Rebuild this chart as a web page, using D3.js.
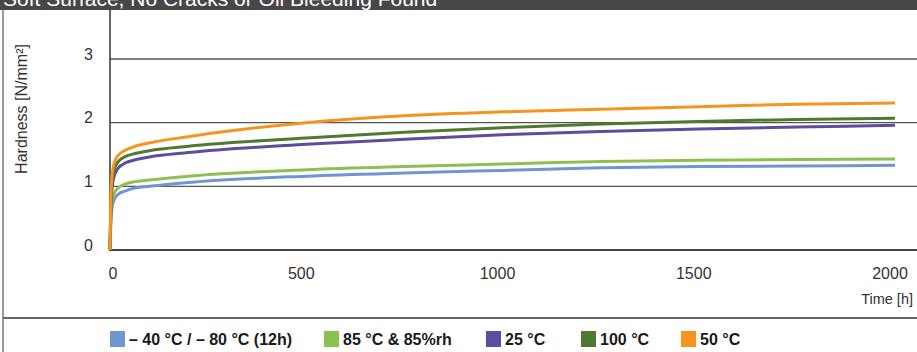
<!DOCTYPE html>
<html><head><meta charset="utf-8">
<script src="https://cdn.jsdelivr.net/npm/d3@7"></script>
<style>html,body{margin:0;padding:0;background:#fff;}svg{display:block;}</style>
</head><body>
<script>
const times = [0, 2, 5, 10, 20, 40, 60, 100, 200, 500, 750, 1000, 1250, 1500, 1750, 2000];
const seriesNames = ["– 40 °C / – 80 °C (12h)", "85 °C & 85%rh", "25 °C", "100 °C", "50 °C"];
const seriesColors = ["#6f96d0", "#8cc152", "#5e4c9f", "#4d7a2f", "#f7941d"];
const blue   = [0, 0.40, 0.65, 0.78, 0.87, 0.93, 0.97, 1.00, 1.06, 1.16, 1.21, 1.25, 1.29, 1.31, 1.32, 1.33];
const lgreen = [0, 0.50, 0.75, 0.88, 0.97, 1.04, 1.07, 1.10, 1.16, 1.26, 1.31, 1.35, 1.39, 1.41, 1.42, 1.43];
const purple = [0, 0.60, 0.95, 1.15, 1.28, 1.37, 1.41, 1.46, 1.53, 1.66, 1.74, 1.81, 1.86, 1.90, 1.93, 1.96];
const dgreen = [0, 0.70, 1.05, 1.25, 1.38, 1.47, 1.51, 1.56, 1.63, 1.76, 1.85, 1.92, 1.98, 2.02, 2.05, 2.07];
const orange = [0, 0.80, 1.15, 1.35, 1.48, 1.57, 1.62, 1.68, 1.78, 2.00, 2.11, 2.17, 2.21, 2.25, 2.29, 2.31];
const seriesValues = [blue, lgreen, purple, dgreen, orange];
const xTicks = [0, 500, 1000, 1500, 2000];
const yTicks = [0, 1, 2, 3];
const title = "Soft Surface, No Cracks or Oil Bleeding Found";
const yTitle = "Hardness [N/mm²]";
const xTitle = "Time [h]";

const W = 917, H = 352;
const svg = d3.select("body").append("svg").attr("width", W).attr("height", H);
const font = "'Liberation Sans', Arial, Helvetica, sans-serif";

// title bar (the reference shows it cropped at the top edge)
svg.append("rect").attr("x", 0).attr("y", 0).attr("width", W).attr("height", 10).attr("fill", "#474749");
svg.append("text").attr("x", 3).attr("y", 6).attr("fill", "#fff")
  .attr("font-family", font).attr("font-size", 21).text(title);

// frame lines
svg.append("line").attr("x1", 3).attr("x2", 3).attr("y1", 10).attr("y2", H)
  .attr("stroke", "#777").attr("stroke-width", 1.5);
svg.append("line").attr("x1", 3).attr("x2", W).attr("y1", 318).attr("y2", 318)
  .attr("stroke", "#666").attr("stroke-width", 2);

const x = d3.scaleLinear().domain([0, 2000]).range([110, 895]);
const y = d3.scaleLinear().domain([0, 3]).range([250, 59]);

// gridlines
svg.append("g").selectAll("line").data(yTicks).join("line")
  .attr("x1", 110).attr("x2", W).attr("y1", d => y(d)).attr("y2", d => y(d))
  .attr("stroke", d => d === 0 ? "#444" : "#555").attr("stroke-width", d => d === 0 ? 2 : 1.3);
// y axis line
svg.append("line").attr("x1", 110).attr("x2", 110).attr("y1", 10).attr("y2", 251)
  .attr("stroke", "#333").attr("stroke-width", 1.5);

// y tick labels
svg.append("g").selectAll("text").data(yTicks).join("text")
  .attr("x", 93).attr("y", d => y(d) - 5).attr("dy", "0.35em").attr("text-anchor", "end")
  .attr("font-family", font).attr("font-size", 16).attr("fill", "#333").text(d => d);
// x tick labels
svg.append("g").selectAll("text").data(xTicks).join("text")
  .attr("x", d => x(d) + (d === 0 ? 3 : -5)).attr("y", 273).attr("dy", "0.35em").attr("text-anchor", "middle")
  .attr("font-family", font).attr("font-size", 16).attr("fill", "#333").text(d => d);

svg.append("text").attr("x", 913).attr("y", 299).attr("dy", "0.35em").attr("text-anchor", "end")
  .attr("font-family", font).attr("font-size", 14.5).attr("fill", "#333").text(xTitle);
svg.append("text").attr("transform", "translate(27,109) rotate(-90)").attr("text-anchor", "middle")
  .attr("font-family", font).attr("font-size", 16).attr("fill", "#333").text(yTitle);

// lines
const line = d3.line().x((d, i) => x(times[i])).y(d => y(d)).curve(d3.curveMonotoneX);
svg.append("g").selectAll("path").data(seriesValues).join("path")
  .attr("d", line).attr("fill", "none")
  .attr("stroke", (d, i) => seriesColors[i]).attr("stroke-width", 3);

// legend
const legendX = [110, 324, 486, 581, 681];
const lg = svg.append("g").selectAll("g").data(seriesNames).join("g")
  .attr("transform", (d, i) => `translate(${legendX[i]},331)`);
lg.append("rect").attr("width", 15).attr("height", 16).attr("fill", (d, i) => seriesColors[i]);
lg.append("text").attr("x", 19).attr("y", 8).attr("dy", "0.35em")
  .attr("font-family", font).attr("font-size", 16).attr("font-weight", "bold").attr("fill", "#1a1a1a").text(d => d);
</script>
</body></html>
